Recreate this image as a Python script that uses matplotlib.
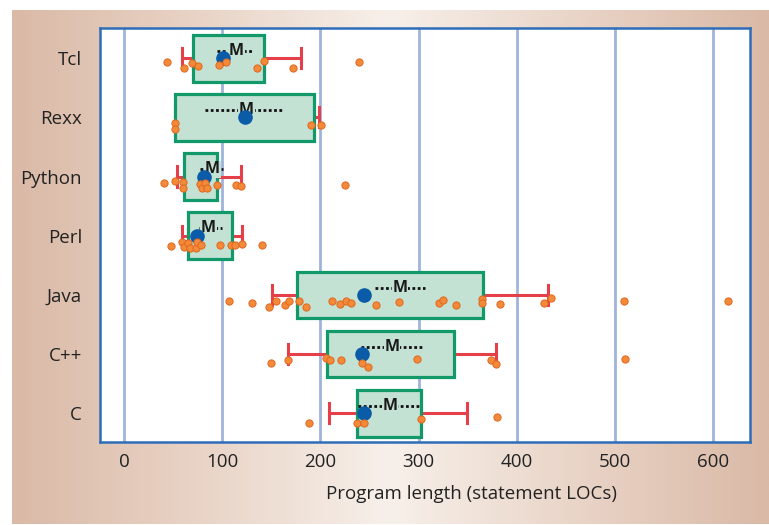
import numpy as np
import matplotlib
matplotlib.use("Agg")
import matplotlib.pyplot as plt
from matplotlib.colors import LinearSegmentedColormap

plt.rcParams['font.family'] = ['Open Sans', 'DejaVu Sans']

# languages, top to bottom
langs = ["Tcl", "Rexx", "Python", "Perl", "Java", "C++", "C"]

# individual program lengths (statement LOCs)
pts_tcl = [43.5, 60.8, 69.6, 75.7, 96.7, 103.9, 135.1, 142.3, 171.8, 239.0]
pts_rexx = [51.9, 51.9, 190.4, 200.6]
pts_python = [41.1, 51.6, 60.4, 60.4, 77.4, 79.4, 82.5, 84.9, 94.4, 114.1, 118.8, 225.1]
pts_perl = [47.9, 59.4, 61.4, 64.8, 67.2, 73.3, 74.7, 78.4, 97.8, 108.6, 113.0, 120.5, 140.8]
pts_java = [107.3, 130.0, 148.0, 155.1, 164.0, 168.0, 178.5, 185.3, 212.1, 219.7, 226.1, 231.2,
            256.6, 280.4, 321.1, 325.2, 337.8, 364.6, 364.6, 383.4, 427.5, 435.2, 509.2, 615.0]
pts_cpp = [149.7, 167.3, 205.4, 209.8, 221.0, 242.7, 248.1, 298.4, 373.7, 378.8, 510.2]
pts_c = [188.7, 237.0, 244.4, 302.1, 380.2]
points = [pts_tcl, pts_rexx, pts_python, pts_perl, pts_java, pts_cpp, pts_c]

# vertical jitter of the points as drawn (category units)
jit_tcl = [0.06, 0.17, 0.08, 0.13, 0.11, 0.06, 0.16, 0.04, 0.17, 0.06]
jit_rexx = [0.09, 0.19, 0.13, 0.13]
jit_python = [0.11, 0.07, 0.10, 0.19, 0.12, 0.19, 0.11, 0.19, 0.14, 0.14, 0.16, 0.15]
jit_perl = [0.17, 0.11, 0.19, 0.12, 0.20, 0.20, 0.10, 0.15, 0.16, 0.16, 0.15, 0.14, 0.15]
jit_java = [0.11, 0.14, 0.20, 0.10, 0.17, 0.11, 0.10, 0.21, 0.10, 0.16, 0.10, 0.14,
            0.17, 0.12, 0.14, 0.08, 0.17, 0.07, 0.14, 0.15, 0.14, 0.06, 0.11, 0.11]
jit_cpp = [0.15, 0.10, 0.07, 0.10, 0.10, 0.15, 0.21, 0.08, 0.10, 0.17, 0.08]
jit_c = [0.16, 0.16, 0.16, 0.09, 0.07]
jitter = [jit_tcl, jit_rexx, jit_python, jit_perl, jit_java, jit_cpp, jit_c]

# box statistics
q1 = [70.6, 51.9, 61.1, 64.8, 175.8, 206.4, 237.0]
q3 = [142.9, 193.5, 95.0, 110.3, 365.3, 336.4, 302.1]
whis_lo = [58.7, 51.9, 53.6, 59.4, 151.0, 167.3, 209.1]
whis_hi = [179.9, 198.9, 118.8, 120.5, 432.1, 378.8, 349.0]
medians = [100.5, 123.2, 81.8, 74.3, 244.7, 242.7, 244.4]
means = [114.7, 124.8, 90.3, 85.9, 281.0, 273.2, 270.9]
se_lo = [94.7, 82.5, 77.4, 76.7, 255.6, 241.3, 238.6]
se_hi = [130.7, 161.6, 100.5, 99.5, 306.5, 303.8, 301.4]

xticks = [0, 100, 200, 300, 400, 500, 600]

fig = plt.figure(figsize=(7.69, 5.25), dpi=100)

# background gradient
bg = fig.add_axes([12 / 769, 1 / 525, 757 / 769, 514 / 525], zorder=-5)
cmap = LinearSegmentedColormap.from_list("bg", ["#dab9a6", "#e9d4c7", "#f7f0ea", "#e9d4c7", "#dab9a6"])
grad = np.linspace(0, 1, 512).reshape(1, -1)
bg.imshow(grad, aspect="auto", cmap=cmap, extent=[0, 1, 0, 1])
bg.set_axis_off()

ax = fig.add_axes([100 / 769, 83.3 / 525, 650 / 769, 413.7 / 525])
ax.set_facecolor("white")

pos = np.arange(len(langs))

stats = []
for i in range(len(langs)):
    stats.append({"whislo": whis_lo[i], "q1": q1[i], "med": medians[i],
                  "q3": q3[i], "whishi": whis_hi[i], "fliers": []})

ax.bxp(stats, positions=pos, widths=0.79, orientation="horizontal", patch_artist=True,
       showfliers=False, capwidths=0.34,
       boxprops=dict(facecolor="#c4e2d4", edgecolor="#12996a", linewidth=2.3, zorder=3),
       whiskerprops=dict(color="#e5404a", linewidth=2.2, zorder=2),
       capprops=dict(color="#e5404a", linewidth=2.2, zorder=2),
       medianprops=dict(linewidth=0))

for i in range(len(langs)):
    y = pos[i] - 0.125
    ax.plot([se_lo[i], se_hi[i]], [y, y], color="#111111", lw=2.0,
            linestyle=(0, (1, 0.9)), dash_capstyle="butt", zorder=4)
    ax.text(means[i], y, "M", ha="center", va="center", fontsize=11.5, fontweight="bold",
            color="#1a1a1a", zorder=5,
            bbox=dict(facecolor="#c4e2d4", edgecolor="none", pad=0.5))

ax.plot(medians, pos, "o", color="#0b5ca8", markersize=9.5, zorder=6, linestyle="none")

for i in range(len(langs)):
    ax.plot(points[i], pos[i] + np.array(jitter[i]), "o", markersize=5.2,
            markerfacecolor="#f28a3a", markeredgecolor="#e0671f", markeredgewidth=0.7,
            linestyle="none", zorder=7)

ax.set_xlim(-24.4, 637.5)
ax.set_ylim(6.48, -0.51)
ax.set_xticks(xticks)
ax.set_yticks(pos)
ax.set_yticklabels(langs)
ax.tick_params(axis="both", length=0, labelsize=13.5, colors="#222222")
ax.tick_params(axis="y", pad=13)
ax.tick_params(axis="x", pad=8)
ax.xaxis.grid(True, color="#9eb4dc", linewidth=2.0)
ax.yaxis.grid(False)
ax.set_axisbelow(True)
for s in ax.spines.values():
    s.set_color("#2e6db8")
    s.set_linewidth(1.8)
ax.set_xlabel("Program length (statement LOCs)", fontsize=13.5, color="#222222",
              va="center")
ax.xaxis.set_label_coords(0.572, -0.126)

fig.savefig("out.png", dpi=100)
